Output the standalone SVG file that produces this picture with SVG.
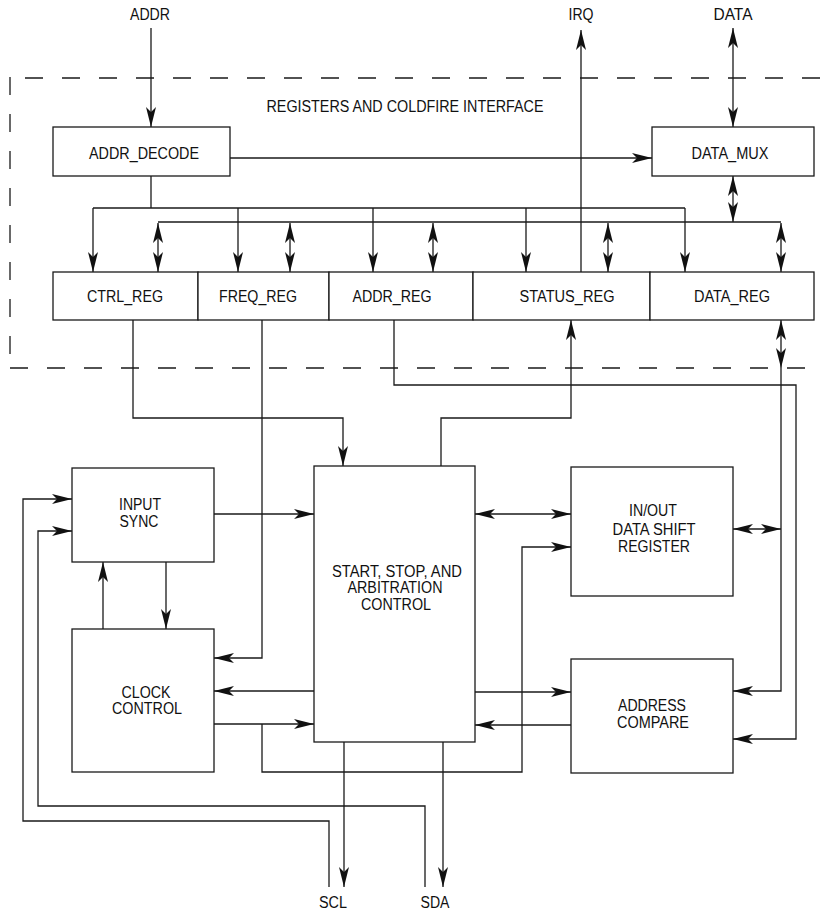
<svg xmlns="http://www.w3.org/2000/svg" width="823" height="911" viewBox="0 0 823 911">
<style>
.box{fill:#fff;stroke:#1a1a1a;stroke-width:1.3}
.c{fill:none;stroke:#1a1a1a;stroke-width:1.3}
.ae{marker-end:url(#ah)}
.as{marker-start:url(#ahs)}
.dash{fill:none;stroke:#1a1a1a;stroke-width:1.3;stroke-dasharray:18 19}
text{font-family:"Liberation Sans",Arial,sans-serif;font-size:16px;fill:#111;text-anchor:middle}
</style>
<defs>
<marker id="ah" viewBox="-21 -6 22 12" markerWidth="22" markerHeight="12" refX="0" refY="0" orient="auto" markerUnits="userSpaceOnUse"><path d="M0,0 L-20,-5 L-15,0 L-20,5 z" fill="#111"/></marker>
<marker id="ahs" viewBox="-21 -6 22 12" markerWidth="22" markerHeight="12" refX="0" refY="0" orient="auto-start-reverse" markerUnits="userSpaceOnUse"><path d="M0,0 L-20,-5 L-15,0 L-20,5 z" fill="#111"/></marker>
</defs>
<g id="boundary">
<path class="dash" d="M25,78 H823"/>
<path class="dash" d="M10,77 V368"/>
<path class="dash" d="M10,368 H823"/>
<text x="405" y="112" textLength="277" lengthAdjust="spacingAndGlyphs">REGISTERS AND COLDFIRE INTERFACE</text>
</g>
<g id="connectors">
<path class="c ae" d="M151,28 V127"/>
<path class="c as" d="M581,30 V272"/>
<path class="c as ae" d="M733,28 V127"/>
<path class="c ae" d="M230,158 H652"/>
<path class="c as ae" d="M733,176 V222"/>
<path class="c" d="M151,176 V208"/>
<path class="c" d="M93,208 H685"/>
<path class="c ae" d="M93,208 V272"/>
<path class="c ae" d="M238,208 V272"/>
<path class="c ae" d="M373,208 V272"/>
<path class="c ae" d="M526,208 V272"/>
<path class="c ae" d="M685,208 V272"/>
<path class="c" d="M158,222 H781"/>
<path class="c as ae" d="M158,223 V272"/>
<path class="c as ae" d="M290,223 V272"/>
<path class="c as ae" d="M433,223 V272"/>
<path class="c as ae" d="M608,223 V272"/>
<path class="c as ae" d="M781,223 V272"/>
<path class="c ae" d="M133,320 V418 H343 V466"/>
<path class="c ae" d="M262,320 V658 H214"/>
<path class="c ae" d="M394,320 V385 H796 V739 H733"/>
<path class="c ae" d="M441,466 V418 H571 V320"/>
<path class="c as ae" d="M781,320 V368"/>
<path class="c ae" d="M781,368 V691 H733"/>
<path class="c as ae" d="M733,529 H781"/>
<path class="c ae" d="M214,514 H314"/>
<path class="c ae" d="M166,562 V629"/>
<path class="c ae" d="M103,629 V562"/>
<path class="c ae" d="M329,887 V821 H23 V499 H72"/>
<path class="c ae" d="M425,887 V806 H38 V531 H72"/>
<path class="c ae" d="M344,742 V887"/>
<path class="c ae" d="M443,742 V887"/>
<path class="c ae" d="M314,691 H214"/>
<path class="c ae" d="M214,724 H314"/>
<path class="c ae" d="M262,724 V772 H522 V547 H571"/>
<path class="c as ae" d="M475,514 H571"/>
<path class="c ae" d="M475,692 H571"/>
<path class="c ae" d="M571,725 H475"/>
</g>
<g id="labels">
<text x="150" y="20" textLength="40" lengthAdjust="spacingAndGlyphs">ADDR</text>
<text x="581" y="20" textLength="25" lengthAdjust="spacingAndGlyphs">IRQ</text>
<text x="733" y="20" textLength="39" lengthAdjust="spacingAndGlyphs">DATA</text>
<text x="333" y="908" textLength="28" lengthAdjust="spacingAndGlyphs">SCL</text>
<text x="435" y="908" textLength="29" lengthAdjust="spacingAndGlyphs">SDA</text>
</g>
<g id="addr_decode"><rect class="box" x="53" y="127" width="177" height="49"/><text x="144" y="159" textLength="110" lengthAdjust="spacingAndGlyphs">ADDR_DECODE</text></g>
<g id="data_mux"><rect class="box" x="652" y="127" width="162" height="49"/><text x="730" y="159" textLength="77" lengthAdjust="spacingAndGlyphs">DATA_MUX</text></g>
<g id="ctrl_reg"><rect class="box" x="53" y="272" width="145" height="48"/><text x="125" y="302" textLength="76" lengthAdjust="spacingAndGlyphs">CTRL_REG</text></g>
<g id="freq_reg"><rect class="box" x="198" y="272" width="131" height="48"/><text x="258" y="302" textLength="78" lengthAdjust="spacingAndGlyphs">FREQ_REG</text></g>
<g id="addr_reg"><rect class="box" x="329" y="272" width="144" height="48"/><text x="392" y="302" textLength="79" lengthAdjust="spacingAndGlyphs">ADDR_REG</text></g>
<g id="status_reg"><rect class="box" x="473" y="272" width="177" height="48"/><text x="567" y="302" textLength="95" lengthAdjust="spacingAndGlyphs">STATUS_REG</text></g>
<g id="data_reg"><rect class="box" x="650" y="272" width="164" height="48"/><text x="732" y="302" textLength="76" lengthAdjust="spacingAndGlyphs">DATA_REG</text></g>
<g id="input_sync"><rect class="box" x="72" y="468" width="142" height="94"/><text x="140" y="510" textLength="42" lengthAdjust="spacingAndGlyphs">INPUT</text><text x="139" y="527" textLength="39" lengthAdjust="spacingAndGlyphs">SYNC</text></g>
<g id="clock_control"><rect class="box" x="72" y="629" width="142" height="143"/><text x="146" y="698" textLength="49" lengthAdjust="spacingAndGlyphs">CLOCK</text><text x="147" y="714" textLength="70" lengthAdjust="spacingAndGlyphs">CONTROL</text></g>
<g id="start_stop"><rect class="box" x="314" y="466" width="161" height="276"/><text x="397" y="577" textLength="130" lengthAdjust="spacingAndGlyphs">START, STOP, AND</text><text x="395" y="593" textLength="95" lengthAdjust="spacingAndGlyphs">ARBITRATION</text><text x="396" y="610" textLength="70" lengthAdjust="spacingAndGlyphs">CONTROL</text></g>
<g id="shift_register"><rect class="box" x="571" y="467" width="162" height="129"/><text x="653" y="516" textLength="48" lengthAdjust="spacingAndGlyphs">IN/OUT</text><text x="654" y="535" textLength="83" lengthAdjust="spacingAndGlyphs">DATA SHIFT</text><text x="654" y="552" textLength="72" lengthAdjust="spacingAndGlyphs">REGISTER</text></g>
<g id="address_compare"><rect class="box" x="571" y="659" width="162" height="114"/><text x="652" y="711" textLength="68" lengthAdjust="spacingAndGlyphs">ADDRESS</text><text x="653" y="728" textLength="72" lengthAdjust="spacingAndGlyphs">COMPARE</text></g>
</svg>
